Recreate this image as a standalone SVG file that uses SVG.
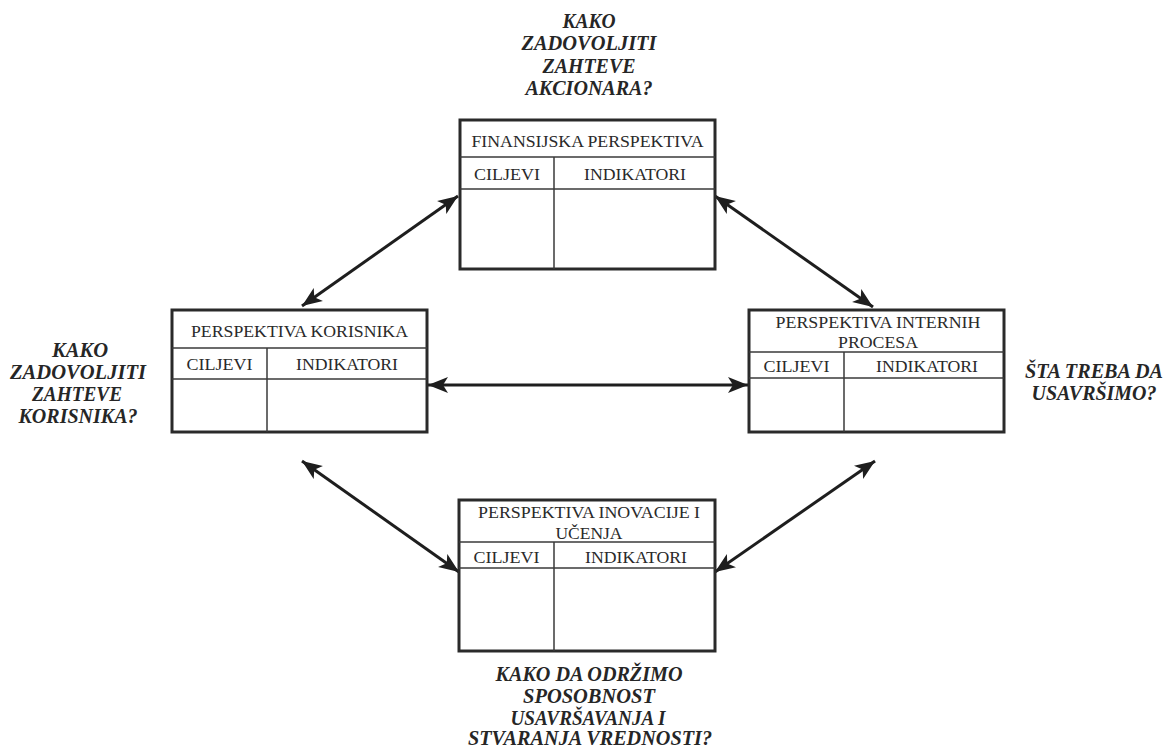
<svg xmlns="http://www.w3.org/2000/svg" width="1169" height="749" viewBox="0 0 1169 749">
  <defs>
    <style>
      .frame { fill: #fff; stroke: #2a2a2a; stroke-width: 3; }
      .grid { stroke: #3a3a3a; stroke-width: 1.5; fill: none; }
      .hdr { font-family: "Liberation Serif", "DejaVu Serif", "Noto Serif", "Times New Roman", serif; font-size: 17.5px; fill: #2a2a2a; text-anchor: middle; }
      .q { font-family: "Liberation Serif", "DejaVu Serif", "Noto Serif", "Times New Roman", serif; font-size: 20px; font-weight: bold; font-style: italic; fill: #262626; text-anchor: middle; }
      .link { stroke: #1e1e1e; stroke-width: 3; fill: none; marker-start: url(#head); marker-end: url(#head); }
    </style>
    <marker id="head" markerUnits="userSpaceOnUse" markerWidth="22" markerHeight="18" refX="20" refY="8" orient="auto-start-reverse" viewBox="0 0 22 16">
      <path d="M0,0 L20,8 L0,16 L5,8 Z" fill="#1e1e1e"/>
    </marker>
  </defs>
  <rect width="1169" height="749" fill="#fff"/>

  <!-- connectors -->
  <g id="connectors">
    <line class="link" x1="302" y1="306" x2="458" y2="196"/>
    <line class="link" x1="715" y1="196" x2="873" y2="307"/>
    <line class="link" x1="428" y1="385" x2="748" y2="385"/>
    <line class="link" x1="302" y1="461" x2="459" y2="572"/>
    <line class="link" x1="875" y1="461" x2="715" y2="572"/>
  </g>

  <!-- financial perspective -->
  <g id="finansijska">
    <rect class="frame" x="460" y="120" width="255" height="149"/>
    <line class="grid" x1="460" y1="157" x2="715" y2="157"/>
    <line class="grid" x1="460" y1="189" x2="715" y2="189"/>
    <line class="grid" x1="554" y1="157" x2="554" y2="269"/>
    <text class="hdr" x="587.5" y="147" textLength="232" lengthAdjust="spacingAndGlyphs">FINANSIJSKA PERSPEKTIVA</text>
    <text class="hdr" x="507" y="180" textLength="66" lengthAdjust="spacingAndGlyphs">CILJEVI</text>
    <text class="hdr" x="635" y="180" textLength="102" lengthAdjust="spacingAndGlyphs">INDIKATORI</text>
  </g>

  <!-- customer perspective -->
  <g id="korisnik">
    <rect class="frame" x="172" y="310" width="255" height="122"/>
    <line class="grid" x1="172" y1="348" x2="427" y2="348"/>
    <line class="grid" x1="172" y1="379" x2="427" y2="379"/>
    <line class="grid" x1="267" y1="348" x2="267" y2="432"/>
    <text class="hdr" x="299.5" y="337" textLength="217" lengthAdjust="spacingAndGlyphs">PERSPEKTIVA KORISNIKA</text>
    <text class="hdr" x="219.5" y="370" textLength="66" lengthAdjust="spacingAndGlyphs">CILJEVI</text>
    <text class="hdr" x="347" y="370" textLength="102" lengthAdjust="spacingAndGlyphs">INDIKATORI</text>
  </g>

  <!-- internal processes perspective -->
  <g id="interni">
    <rect class="frame" x="749" y="310" width="255" height="122"/>
    <line class="grid" x1="749" y1="352" x2="1004" y2="352"/>
    <line class="grid" x1="749" y1="378" x2="1004" y2="378"/>
    <line class="grid" x1="844" y1="352" x2="844" y2="432"/>
    <text class="hdr" x="878" y="328" textLength="205" lengthAdjust="spacingAndGlyphs">PERSPEKTIVA INTERNIH</text>
    <text class="hdr" x="878" y="348" textLength="80" lengthAdjust="spacingAndGlyphs">PROCESA</text>
    <text class="hdr" x="796.5" y="372" textLength="66" lengthAdjust="spacingAndGlyphs">CILJEVI</text>
    <text class="hdr" x="927" y="372" textLength="102" lengthAdjust="spacingAndGlyphs">INDIKATORI</text>
  </g>

  <!-- innovation and learning perspective -->
  <g id="inovacije">
    <rect class="frame" x="459" y="500" width="256" height="151"/>
    <line class="grid" x1="459" y1="542" x2="715" y2="542"/>
    <line class="grid" x1="459" y1="568" x2="715" y2="568"/>
    <line class="grid" x1="554" y1="542" x2="554" y2="651"/>
    <text class="hdr" x="589" y="518" textLength="222" lengthAdjust="spacingAndGlyphs">PERSPEKTIVA INOVACIJE I</text>
    <text class="hdr" x="589" y="539" textLength="67" lengthAdjust="spacingAndGlyphs">UČENJA</text>
    <text class="hdr" x="506.5" y="563" textLength="66" lengthAdjust="spacingAndGlyphs">CILJEVI</text>
    <text class="hdr" x="636" y="563" textLength="102" lengthAdjust="spacingAndGlyphs">INDIKATORI</text>
  </g>

  <!-- guiding questions -->
  <g id="q-top">
    <text class="q" x="589" y="28" textLength="53" lengthAdjust="spacingAndGlyphs">KAKO</text>
    <text class="q" x="589" y="50" textLength="135" lengthAdjust="spacingAndGlyphs">ZADOVOLJITI</text>
    <text class="q" x="589" y="73" textLength="93" lengthAdjust="spacingAndGlyphs">ZAHTEVE</text>
    <text class="q" x="589" y="95" textLength="127" lengthAdjust="spacingAndGlyphs">AKCIONARA?</text>
  </g>
  <g id="q-left">
    <text class="q" x="80" y="357" textLength="56" lengthAdjust="spacingAndGlyphs">KAKO</text>
    <text class="q" x="78" y="379" textLength="136" lengthAdjust="spacingAndGlyphs">ZADOVOLJITI</text>
    <text class="q" x="77" y="401" textLength="90" lengthAdjust="spacingAndGlyphs">ZAHTEVE</text>
    <text class="q" x="78" y="423" textLength="119" lengthAdjust="spacingAndGlyphs">KORISNIKA?</text>
  </g>
  <g id="q-right">
    <text class="q" x="1094" y="378" textLength="138" lengthAdjust="spacingAndGlyphs">ŠTA TREBA DA</text>
    <text class="q" x="1094" y="400" textLength="125" lengthAdjust="spacingAndGlyphs">USAVRŠIMO?</text>
  </g>
  <g id="q-bottom">
    <text class="q" x="589" y="681" textLength="187" lengthAdjust="spacingAndGlyphs">KAKO DA ODRŽIMO</text>
    <text class="q" x="589" y="703" textLength="132" lengthAdjust="spacingAndGlyphs">SPOSOBNOST</text>
    <text class="q" x="588" y="725" textLength="155" lengthAdjust="spacingAndGlyphs">USAVRŠAVANJA I</text>
    <text class="q" x="590" y="745" textLength="244" lengthAdjust="spacingAndGlyphs">STVARANJA VREDNOSTI?</text>
  </g>
</svg>
